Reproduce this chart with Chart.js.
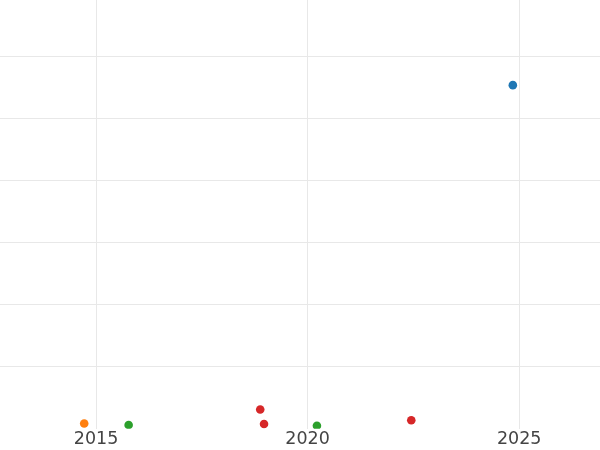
<!DOCTYPE html>
<html>
<head>
<meta charset="utf-8">
<script src="https://cdn.jsdelivr.net/npm/chart.js@4"></script>
<style>
  body { margin: 0; background: #fff; }
  #wrap { width: 600px; height: 450px; }
</style>
</head>
<body>
<div id="wrap"><canvas id="scatterChart" width="600" height="450"></canvas></div>
<script>
const tickYears = [2015, 2020, 2025];
const yGridValues = [1, 2, 3, 4, 5, 6];

const blueX = [2024.85];
const blueY = [5.54];
const orangeX = [2014.72];
const orangeY = [0.07];
const greenX = [2015.77, 2020.22];
const greenY = [0.047, 0.035];
const redX = [2018.88, 2018.97, 2022.45];
const redY = [0.297, 0.063, 0.123];

const toPoints = (xs, ys) => xs.map((x, i) => ({ x: x, y: ys[i] }));

const ctx = document.getElementById('scatterChart').getContext('2d');
new Chart(ctx, {
  type: 'scatter',
  data: {
    datasets: [
      { data: toPoints(blueX, blueY), backgroundColor: '#1f77b4' },
      { data: toPoints(orangeX, orangeY), backgroundColor: '#ff7f0e' },
      { data: toPoints(greenX, greenY), backgroundColor: '#2ca02c' },
      { data: toPoints(redX, redY), backgroundColor: '#d62728' }
    ]
  },
  options: {
    responsive: false,
    animation: false,
    layout: { padding: 0, autoPadding: false },
    elements: { point: { radius: 4.3, borderWidth: 0, hoverRadius: 4.3 } },
    datasets: { scatter: { clip: 0 } },
    plugins: { legend: { display: false }, tooltip: { enabled: false } },
    scales: {
      x: {
        type: 'linear',
        min: 2012.73,
        max: 2026.91,
        afterBuildTicks: axis => { axis.ticks = tickYears.map(v => ({ value: v })); },
        border: { display: false },
        grid: { color: '#e8e8e8', lineWidth: 1, drawTicks: false },
        ticks: {
          padding: 3.5,
          color: '#444',
          font: { family: 'DejaVu Sans', size: 17.5, lineHeight: 0.81 },
          callback: v => String(v)
        }
      },
      y: {
        min: -0.015,
        max: 6.916,
        afterBuildTicks: axis => { axis.ticks = yGridValues.map(v => ({ value: v })); },
        border: { display: false },
        grid: { drawTicks: false, lineWidth: 1, color: '#e8e8e8' },
        ticks: { display: false }
      }
    }
  }
});
</script>
</body>
</html>
